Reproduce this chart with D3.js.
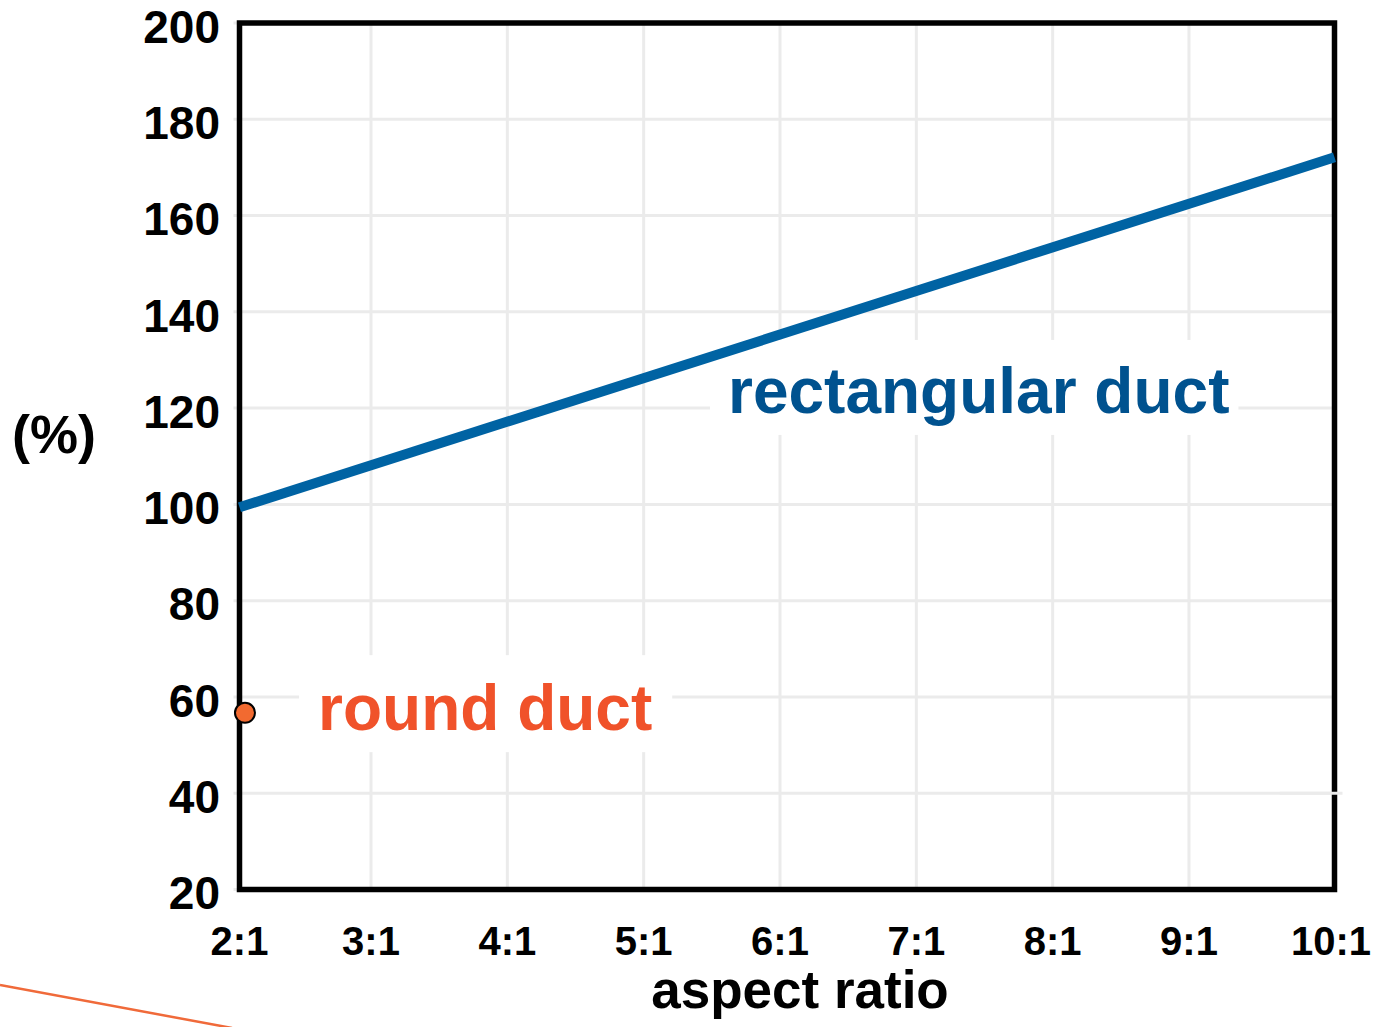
<!DOCTYPE html>
<html>
<head>
<meta charset="utf-8">
<script src="https://cdn.jsdelivr.net/npm/d3@7"></script>
<style>
    body { margin: 0; background: #fff; }
    svg { display: block; font-family: "Liberation Sans", Arial, sans-serif; font-weight: bold; }
</style>
</head>
<body>
<div id="chart"></div>
<script>
// aspect ratio ticks (x) and percentage ticks (y)
const aspectTicks = [2, 3, 4, 5, 6, 7, 8, 9, 10];
const aspectLabels = ["2:1", "3:1", "4:1", "5:1", "6:1", "7:1", "8:1", "9:1", "10:1"];
const percentTicks = [20, 40, 60, 80, 100, 120, 140, 160, 180, 200];

// rectangular duct series
const rectAspect = [2, 10];
const rectPercent = [99.4, 172.1];

// round duct point
const roundAspect = [2.04];
const roundPercent = [56.7];

// annotation labels, anchored in data space
const labelText = ["rectangular duct", "round duct"];
const labelAspect = [5.569, 2.574];
const labelPercent = [119.0, 53.1];

const width = 1378, height = 1027;
const plotLeft = 239.5, plotRight = 1334.5, plotTop = 23, plotBottom = 889.5;

const svg = d3.select("#chart").append("svg")
    .attr("width", width)
    .attr("height", height);

const x = d3.scaleLinear().domain([2, 10]).range([plotLeft, plotRight]);
const y = d3.scaleLinear().domain([20, 200]).range([plotBottom, plotTop]);
// the vertical grid in the original sits a few pixels off the frame
const xGrid = d3.scaleLinear().domain([2, 10]).range([234.7, 1325.3]);

const gridColor = "#ebebeb";

// gridlines
svg.append("g")
    .selectAll("line")
    .data(percentTicks)
    .join("line")
    .attr("x1", plotLeft - 6)
    .attr("x2", plotRight)
    .attr("y1", (d) => y(d))
    .attr("y2", (d) => y(d))
    .attr("stroke", gridColor)
    .attr("stroke-width", 3);

svg.append("g")
    .selectAll("line")
    .data(aspectTicks.slice(1, -1))
    .join("line")
    .attr("x1", (d) => xGrid(d))
    .attr("x2", (d) => xGrid(d))
    .attr("y1", plotTop)
    .attr("y2", plotBottom)
    .attr("stroke", gridColor)
    .attr("stroke-width", 3);

// label backgrounds (white boxes that cut through the grid) and texts
const labelColors = ["#00528f", "#f0522a"];
const labelPads = [
    { l: 18, r: 9, t: 15, b: 8 },
    { l: 19, r: 20, t: 17, b: 8 },
];
const labels = labelText.map((t, i) => ({ t, ax: labelAspect[i], p: labelPercent[i], color: labelColors[i], pad: labelPads[i] }));

const labelG = svg.append("g");
labels.forEach((l) => {
    const bg = labelG.append("rect").attr("fill", "#fff");
    const txt = labelG.append("text")
        .attr("x", x(l.ax))
        .attr("y", y(l.p))
        .attr("fill", l.color)
        .attr("font-size", 64)
        .text(l.t);
    const bb = txt.node().getBBox();
    bg.attr("x", bb.x - l.pad.l)
        .attr("y", bb.y - l.pad.t)
        .attr("width", bb.width + l.pad.l + l.pad.r)
        .attr("height", bb.height + l.pad.t + l.pad.b);
});

// frame
svg.append("rect")
    .attr("x", plotLeft)
    .attr("y", plotTop)
    .attr("width", plotRight - plotLeft)
    .attr("height", plotBottom - plotTop)
    .attr("fill", "none")
    .attr("stroke", "#000")
    .attr("stroke-width", 5.5);

// the 40 gridline runs over the right edge of the frame
svg.append("line")
    .attr("x1", x(9.6))
    .attr("x2", plotRight + 8)
    .attr("y1", y(40))
    .attr("y2", y(40))
    .attr("stroke", gridColor)
    .attr("stroke-width", 3);

// rectangular duct line
const line = d3.line()
    .x((d) => x(d[0]))
    .y((d) => y(d[1]));

svg.append("path")
    .datum(d3.zip(rectAspect, rectPercent))
    .attr("d", line)
    .attr("fill", "none")
    .attr("stroke", "#0063a3")
    .attr("stroke-width", 10);

// round duct point
svg.append("g")
    .selectAll("circle")
    .data(d3.zip(roundAspect, roundPercent))
    .join("circle")
    .attr("cx", (d) => x(d[0]))
    .attr("cy", (d) => y(d[1]))
    .attr("r", 10)
    .attr("fill", "#f26a30")
    .attr("stroke", "#000")
    .attr("stroke-width", 2);

// y tick labels
svg.append("g")
    .selectAll("text")
    .data(percentTicks)
    .join("text")
    .attr("x", 220)
    .attr("y", (d) => y(d))
    .attr("dy", "0.43em")
    .attr("text-anchor", "end")
    .attr("font-size", 46)
    .attr("fill", "#000")
    .text((d) => d);

// x tick labels (end labels follow the frame, inner ones the grid)
svg.append("g")
    .selectAll("text")
    .data(aspectTicks)
    .join("text")
    .attr("x", (d) => (d === 2 ? x(d) : d === 10 ? x(d) - 3.5 : xGrid(d)))
    .attr("y", 955)
    .attr("text-anchor", "middle")
    .attr("font-size", 40)
    .attr("fill", "#000")
    .text((d, i) => aspectLabels[i]);

// axis titles
svg.append("text")
    .attr("x", 12)
    .attr("y", 453)
    .attr("font-size", 54)
    .attr("fill", "#000")
    .text("(%)");

svg.append("text")
    .attr("x", 800)
    .attr("y", 1008)
    .attr("text-anchor", "middle")
    .attr("font-size", 53)
    .attr("fill", "#000")
    .text("aspect ratio");

// stray orange stroke in the lower left corner
svg.append("line")
    .attr("x1", 0)
    .attr("y1", 985)
    .attr("x2", 232)
    .attr("y2", 1028)
    .attr("stroke", "#f06a3a")
    .attr("stroke-width", 2.5);
</script>
</body>
</html>
